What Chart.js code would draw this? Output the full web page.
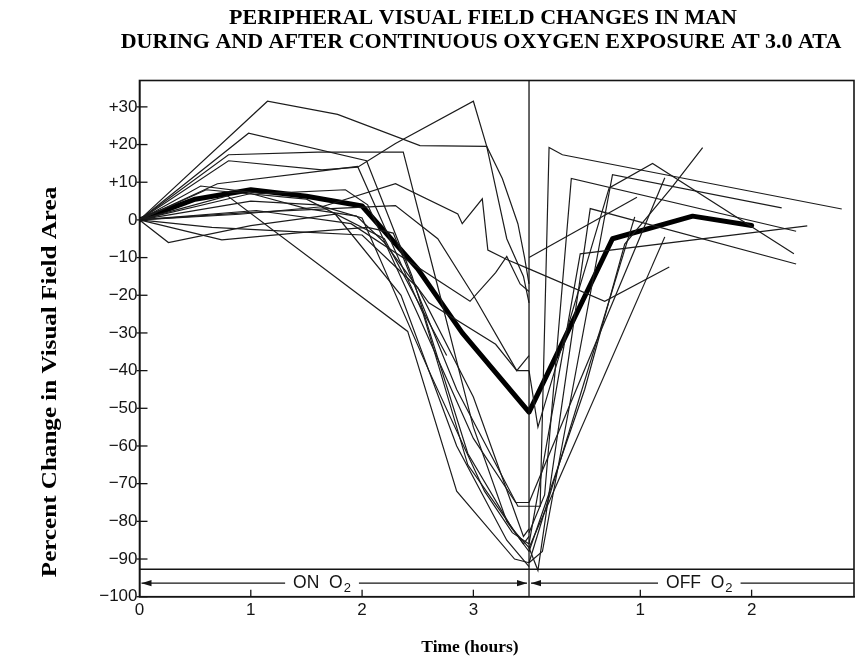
<!DOCTYPE html>
<html><head><meta charset="utf-8">
<script src="https://cdn.jsdelivr.net/npm/chart.js@4"></script>
<style>html,body{margin:0;padding:0;background:#fff}</style>
</head><body>
<canvas id="c" width="868" height="662"></canvas>
<script>
// ---- text ----
const titleLines = ['PERIPHERAL VISUAL FIELD CHANGES IN MAN', 'DURING AND AFTER CONTINUOUS OXYGEN EXPOSURE AT 3.0 ATA'];
const yAxisTitle = 'Percent Change in Visual Field Area';
const xAxisTitle = 'Time (hours)';
const onLabel = ['ON  O', '2'];
const offLabel = ['OFF  O', '2'];

// ---- ticks (x in hours from start; off-O2 time = x - 3.5) ----
const xTickValues = [0, 1, 2, 3, 4.5, 5.5];
const xTickLabels = ['0', '1', '2', '3', '1', '2'];
const yTickValues = [30, 20, 10, 0, -10, -20, -30, -40, -50, -60, -70, -80, -90, -100];
const yTickLabels = ['+30', '+20', '+10', '0', '\u221210', '\u221220', '\u221230', '\u221240', '\u221250', '\u221260', '\u221270', '\u221280', '\u221290', '\u2212100'];
const exposureEnd = 3.5;
const bandLineValue = -92.7;
const arrowValue = -96.4;
const onLabelAt = 1.64;
const offLabelAt = 5.03;

// ---- mean curve [time, % change] ----
const meanCurve = [[0,0],[0.5,5.5],[1,8],[1.5,6.3],[2,3.7],[2.5,-13],[2.9,-30],[3.5,-51],[4.25,-5],[4.97,1],[5.5,-1.5]];

// ---- individual subjects [time, % change] ----
const s1 = [[0,0],[1.15,31.5],[1.78,28],[2.52,19.7],[3.12,19.5],[3.26,11],[3.4,-1],[3.46,-10],[3.5,-17]];
const s2 = [[0,0],[0.98,23],[2.04,15.7],[2.45,-15],[2.95,-62],[3.35,-82],[3.5,-87]];
const s3 = [[0,0],[0.8,15.7],[1.64,13.3],[1.96,14],[2.3,20.3],[3.0,31.5],[3.12,19.5],[3.3,-5],[3.45,-15],[3.5,-22]];
const s4 = [[0,0],[0.8,17.3],[1.6,18],[2.37,18],[2.7,-20],[3.0,-55],[3.3,-80],[3.5,-88]];
const s5 = [[0,0],[0.7,9.6],[1.64,13],[1.96,14.2],[2.55,-25],[2.95,-65],[3.45,-86],[3.5,-84]];
const s6 = [[0,0],[0.26,-6],[1.0,-1.5],[1.76,1.5],[2.35,-20],[2.85,-60],[3.3,-85],[3.5,-92]];
const s7 = [[0,0],[0.74,-5.3],[1.52,-3.2],[2.05,-2],[2.28,-3.5],[2.85,-45],[3.4,-76],[3.5,-76]];
const s8 = [[0,0],[0.79,6.4],[2.41,-29.6],[2.85,-72],[3.37,-90],[3.5,-91]];
const s9 = [[0,0],[0.9,1.5],[1.64,3.5],[2.3,9.6],[2.86,1.6],[2.9,-1],[3.08,5.6],[3.13,-8],[3.3,-10.5],[3.5,-13],[4.18,-21.6],[4.76,-12.5]];
const s10 = [[0,0],[1.0,2],[2.3,3.8],[2.68,-5],[3.0,-20],[3.39,-40],[3.5,-36]];
const s11 = [[0,0],[0.6,8],[1.5,5.5],[2.2,-5],[2.76,-36]];
const s12 = [[0,0],[0.55,9],[1.1,7],[1.85,8],[2.05,4],[2.5,-25],[3.0,-58],[3.38,-75],[3.5,-75]];
const s13 = [[0,0],[1.0,5],[1.6,4],[2.0,0.5],[2.6,-40],[3.1,-72],[3.35,-83],[3.5,-86]];
const s14 = [[0,0],[1.0,7],[1.5,3],[1.95,1],[2.2,-6],[2.6,-22],[3.2,-33],[3.39,-40],[3.5,-40]];
const s15 = [[0,0],[1.05,2.5],[1.9,-1],[2.97,-21.6],[3.2,-14],[3.3,-9.7],[3.42,-17],[3.5,-19]];
const s16 = [[0,0],[0.65,-2],[1.3,-3],[2.0,-4],[2.5,-18],[3.0,-47],[3.45,-84],[3.5,-82]];
const o1 = [[3.5,-76],[3.6,-76],[3.68,19.2],[3.8,17.3],[6.31,2.9]];
const o2 = [[3.5,-83],[3.64,-73],[3.88,11],[5.9,-3]];
const o3 = [[3.5,-87],[3.58,-93],[4.05,3],[5.9,-11.7]];
const o4 = [[3.5,-91],[3.62,-88],[4.25,12],[5.77,3.2]];
const o5 = [[3.5,-40],[3.58,-55],[4.22,8.5],[4.61,15],[5.88,-9]];
const o6 = [[3.5,-86],[3.96,-9],[6.0,-1.6]];
const o7 = [[3.5,-88],[4.0,-45],[4.36,-6.4],[4.78,8.5],[5.06,19.2]];
const o8 = [[3.5,-10],[4.47,6]];
const o9 = [[3.5,-91],[4.45,0.8]];
const o10 = [[3.5,-75],[4.72,11.2]];
const o11 = [[3.5,-87],[4.72,-4.5]];
const subjects = [s1,s2,s3,s4,s5,s6,s7,s8,s9,s10,s11,s12,s13,s14,s15,s16,o1,o2,o3,o4,o5,o6,o7,o8,o9,o10,o11];

const SANS = '"Liberation Sans", Arial, sans-serif';
const SERIF = '"Liberation Serif", "Times New Roman", serif';
const INK = '#141414';
const toPts = arr => arr.map(p => ({x: p[0], y: p[1]}));

const datasets = subjects.map(s => ({
  data: toPts(s), showLine: true, borderColor: '#1c1c1c', borderWidth: 1.2,
  pointRadius: 0, tension: 0, fill: false
}));
datasets.push({data: toPts(meanCurve), showLine: true, borderColor: '#000', borderWidth: 5,
  pointRadius: 0, tension: 0, fill: false, borderJoinStyle: 'round', borderCapStyle: 'round'});

function seg(ctx, x1, y1, x2, y2) { ctx.beginPath(); ctx.moveTo(x1, y1); ctx.lineTo(x2, y2); ctx.stroke(); }
function head(ctx, x, y, dir) {
  ctx.beginPath(); ctx.moveTo(x, y); ctx.lineTo(x - dir * 10, y - 3.2); ctx.lineTo(x - dir * 10, y + 3.2); ctx.closePath(); ctx.fill();
}
function subText(ctx, parts, cx, cy) {
  ctx.font = '17.5px ' + SANS;
  const w1 = ctx.measureText(parts[0]).width;
  ctx.font = '13px ' + SANS;
  const w2 = ctx.measureText(parts[1]).width;
  const x0 = cx - (w1 + w2 + 1) / 2;
  ctx.textAlign = 'left'; ctx.textBaseline = 'middle';
  ctx.font = '17.5px ' + SANS; ctx.fillText(parts[0], x0, cy);
  ctx.font = '13px ' + SANS; ctx.fillText(parts[1], x0 + w1 + 1, cy + 5);
  return (w1 + w2 + 1) / 2;
}

const paperPlugin = {
  id: 'paper',
  afterDraw(chart) {
    const {ctx, chartArea: a, scales: {x, y}} = chart;
    ctx.save();
    ctx.strokeStyle = INK; ctx.fillStyle = INK; ctx.lineWidth = 1.6;
    ctx.strokeRect(a.left, a.top, a.right - a.left, a.bottom - a.top);
    const yb = y.getPixelForValue(bandLineValue);
    seg(ctx, a.left, yb, a.right, yb);
    const xd = x.getPixelForValue(exposureEnd);
    ctx.lineWidth = 1.3;
    seg(ctx, xd, a.top, xd, a.bottom);
    // tick marks
    yTickValues.forEach(v => { const py = y.getPixelForValue(v); seg(ctx, a.left - 3, py, a.left + 8, py); });
    xTickValues.forEach(v => { if (v > 0) { const px = x.getPixelForValue(v); seg(ctx, px, a.bottom, px, a.bottom - 7); } });
    // arrows
    const ya = y.getPixelForValue(arrowValue);
    ctx.lineWidth = 1.2;
    const cOn = x.getPixelForValue(onLabelAt);
    const hOn = subText(ctx, onLabel, cOn, ya);
    seg(ctx, a.left + 2, ya, cOn - hOn - 8, ya);
    seg(ctx, cOn + hOn + 8, ya, xd - 2, ya);
    head(ctx, a.left + 2, ya, -1); head(ctx, xd - 2, ya, 1);
    const cOff = x.getPixelForValue(offLabelAt);
    const hOff = subText(ctx, offLabel, cOff, ya);
    seg(ctx, xd + 2, ya, cOff - hOff - 8, ya);
    seg(ctx, cOff + hOff + 8, ya, a.right, ya);
    head(ctx, xd + 2, ya, -1);
    // titles
    ctx.fillStyle = '#000'; ctx.textAlign = 'center'; ctx.textBaseline = 'middle';
    ctx.font = 'bold 22px ' + SERIF;
    ctx.fillText(titleLines[0], 483, 18);
    ctx.fillText(titleLines[1], 481, 42);
    ctx.font = 'bold 17.5px ' + SERIF;
    ctx.fillText(xAxisTitle, 470, 647);
    ctx.font = 'bold 22px ' + SERIF;
    ctx.translate(50, 382); ctx.rotate(-Math.PI / 2); ctx.scale(1.14, 1);
    ctx.fillText(yAxisTitle, 0, 0);
    ctx.restore();
  }
};

new Chart(document.getElementById('c'), {
  type: 'scatter',
  data: {datasets},
  options: {
    responsive: false, animation: false, devicePixelRatio: 1,
    layout: {padding: {top: 80.5, right: 14, left: 0, bottom: 0}},
    plugins: {legend: {display: false}, tooltip: {enabled: false}, title: {display: false}},
    scales: {
      x: {
        type: 'linear', min: 0, max: 6.42,
        afterBuildTicks: s => { s.ticks = xTickValues.map(v => ({value: v})); },
        ticks: {callback: (v, i) => xTickLabels[i], font: {family: SANS, size: 17}, color: INK, padding: 3, maxRotation: 0, autoSkip: false},
        grid: {display: false, drawTicks: false},
        border: {display: true, color: INK, width: 1.6},
        afterFit: s => { s.height = 65.3; s.paddingLeft = 0; s.paddingRight = 0; }
      },
      y: {
        type: 'linear', min: -100, max: 37,
        afterBuildTicks: s => { s.ticks = yTickValues.map(v => ({value: v})); },
        ticks: {callback: (v, i) => yTickLabels[i], font: {family: SANS, size: 17}, color: INK, padding: 2, autoSkip: false},
        grid: {display: false, drawTicks: false},
        border: {display: true, color: INK, width: 1.6},
        afterFit: s => { s.width = 139.5; s.paddingTop = 0; s.paddingBottom = 0; }
      }
    }
  },
  plugins: [paperPlugin]
});
</script>
</body></html>
